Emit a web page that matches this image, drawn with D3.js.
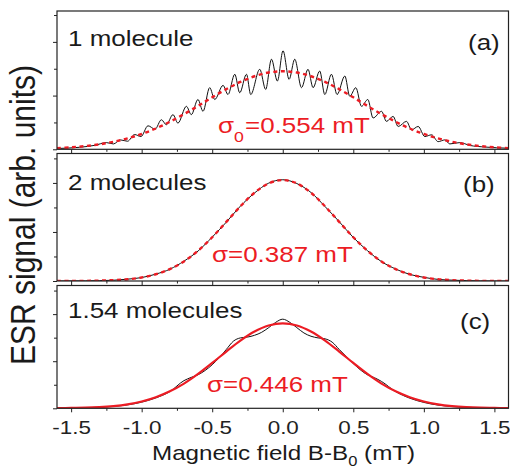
<!DOCTYPE html>
<html>
<head>
<meta charset="utf-8">
<script src="https://cdn.jsdelivr.net/npm/d3@7"></script>
<style>
  body { margin: 0; background: #fff; }
  svg { display: block; font-family: "Liberation Sans", Arial, sans-serif; }
</style>
</head>
<body>
<div id="vis"></div>
<script>
// axis ticks
const fieldTicks = [-1.5, -1.0, -0.5, 0.0, 0.5, 1.0, 1.5];
const fieldMinor = [-1.25, -0.75, -0.25, 0.25, 0.75, 1.25];
const signalTicks = [0, 0.4, 0.8];
const signalMinor = [0.2, 0.6, 1.0];

// grid used for the gaussian fits (mT)
const fitField = [-1.6, -1.5, -1.4, -1.3, -1.2, -1.1, -1.0, -0.9, -0.8, -0.7, -0.6, -0.5, -0.4, -0.3, -0.2, -0.1, 0.0,
  0.1, 0.2, 0.3, 0.4, 0.5, 0.6, 0.7, 0.8, 0.9, 1.0, 1.1, 1.2, 1.3, 1.4, 1.5, 1.6];

// (a) 1 molecule
const fieldA = [-1.6, -1.44, -1.33, -1.25, -1.2, -1.15, -1.1, -1.05, -1.005, -0.955, -0.905, -0.86, -0.825, -0.778, -0.743,
  -0.683, -0.648, -0.601, -0.565, -0.518, -0.482, -0.423, -0.388, -0.34, -0.305, -0.257, -0.227, -0.163, -0.121, -0.08,
  -0.038, 0.002, 0.045, 0.085, 0.133, 0.179, 0.215, 0.262, 0.298, 0.345, 0.385, 0.44, 0.475, 0.518, 0.558, 0.603, 0.64,
  0.7, 0.735, 0.782, 0.818, 0.877, 0.913, 0.96, 1.007, 1.055, 1.101, 1.149, 1.184, 1.255, 1.326, 1.433, 1.596];
const signalA = [0.006, 0.015, 0.03, 0.05, 0.04, 0.07, 0.06, 0.11, 0.095, 0.175, 0.15, 0.22, 0.183, 0.258, 0.195,
  0.32, 0.258, 0.371, 0.283, 0.459, 0.371, 0.476, 0.408, 0.559, 0.421, 0.559, 0.408, 0.596, 0.446, 0.671,
  0.508, 0.734, 0.521, 0.671, 0.459, 0.596, 0.459, 0.583, 0.408, 0.559, 0.408, 0.546, 0.395, 0.459, 0.32, 0.371, 0.233,
  0.283, 0.208, 0.245, 0.17, 0.208, 0.145, 0.17, 0.095, 0.108, 0.057, 0.07, 0.04, 0.05, 0.029, 0.017, 0.008];
const fitA = [0.009, 0.015, 0.024, 0.037, 0.056, 0.081, 0.114, 0.155, 0.205, 0.262, 0.323, 0.387, 0.448, 0.502, 0.544, 0.572, 0.581,
  0.572, 0.544, 0.502, 0.448, 0.387, 0.323, 0.262, 0.205, 0.155, 0.114, 0.081, 0.056, 0.037, 0.024, 0.015, 0.009];

// (b) 2 molecules
const signalB = [0, 0.001, 0.001, 0.003, 0.006, 0.015, 0.028, 0.056, 0.096, 0.162, 0.245, 0.358, 0.48, 0.611, 0.718, 0.798, 0.826,
  0.795, 0.722, 0.607, 0.484, 0.355, 0.248, 0.158, 0.098, 0.054, 0.03, 0.013, 0.007, 0.003, 0.001, 0, 0];
const fitB = [0, 0, 0.001, 0.003, 0.007, 0.014, 0.029, 0.055, 0.097, 0.16, 0.247, 0.357, 0.482, 0.609, 0.72, 0.796, 0.823,
  0.796, 0.72, 0.609, 0.482, 0.357, 0.247, 0.16, 0.097, 0.055, 0.029, 0.014, 0.007, 0.003, 0.001, 0, 0];

// (c) 1.54 molecules
const fieldC = [-1.6, -1.4, -1.2, -1.0, -0.9, -0.8, -0.7, -0.65, -0.6, -0.5, -0.45, -0.4, -0.35, -0.3, -0.25, -0.2, -0.15,
  -0.1, -0.05, 0, 0.05, 0.1, 0.15, 0.2, 0.25, 0.3, 0.35, 0.4, 0.45, 0.5, 0.6, 0.65, 0.7, 0.8, 0.9, 1.0, 1.2, 1.4, 1.6];
const signalC = [0.001, 0.005, 0.016, 0.052, 0.088, 0.142, 0.235, 0.262, 0.285, 0.37, 0.43, 0.5, 0.57, 0.598, 0.605, 0.62, 0.645,
  0.685, 0.73, 0.757, 0.73, 0.685, 0.64, 0.612, 0.598, 0.59, 0.562, 0.5, 0.44, 0.38, 0.285, 0.26, 0.228, 0.142, 0.086, 0.05,
  0.015, 0.005, 0.001];
const fitC = [0.001, 0.003, 0.005, 0.01, 0.019, 0.034, 0.058, 0.094, 0.144, 0.21, 0.292, 0.385, 0.482, 0.575, 0.652, 0.703, 0.721,
  0.703, 0.652, 0.575, 0.482, 0.385, 0.292, 0.21, 0.144, 0.094, 0.058, 0.034, 0.019, 0.01, 0.005, 0.003, 0.001];

const RED = '#ec1c24';
const STRETCH = 1.18; // text in the figure is a bit wide

const config = { width: 510, height: 470, left: 57, right: 508.5 };

const panels = [
  { top: 11, bottom: 149.3, yMax: 1.03, field: fieldA, signal: signalA, fit: fitA, dashed: true,
    name: '1 molecule', nameY: 46, tag: '(a)', tagX: 468, tagY: 50,
    sigma: ['σ', '0', '=0.554 mT'], sigmaX: 218, sigmaY: 133 },
  { top: 153.5, bottom: 281, yMax: 1.04, field: fitField, signal: signalB, fit: fitB, dashed: true,
    name: '2 molecules', nameY: 190, tag: '(b)', tagX: 463, tagY: 191.5,
    sigma: ['σ', '', '=0.387 mT'], sigmaX: 212, sigmaY: 262 },
  { top: 285.5, bottom: 408.3, yMax: 1.043, field: fieldC, signal: signalC, fit: fitC, dashed: false,
    name: '1.54 molecules', nameY: 318, tag: '(c)', tagX: 460, tagY: 328.5,
    sigma: ['σ', '', '=0.446 mT'], sigmaX: 207, sigmaY: 392 }
];

const svg = d3.select('#vis')
  .append('svg')
  .attr('width', config.width)
  .attr('height', config.height);

const x = d3.scaleLinear().domain([-1.6, 1.6]).range([config.left, config.right]);

function stretched(sel, px, py) {
  return sel.attr('transform', `translate(${px},${py}) scale(${STRETCH},1)`);
}

panels.forEach((p, i) => {
  const y = d3.scaleLinear().domain([0, p.yMax]).range([p.bottom, p.top]);
  const g = svg.append('g');

  const clipId = 'clip' + i;
  svg.append('clipPath').attr('id', clipId)
    .append('rect')
    .attr('x', config.left).attr('y', p.top)
    .attr('width', config.right - config.left).attr('height', p.bottom - p.top);

  // bottom ticks
  const bottomAxis = g.append('g')
    .attr('transform', `translate(0,${p.bottom})`)
    .call(d3.axisBottom(x).tickValues(fieldTicks).tickSize(4)
      .tickFormat(i === 2 ? d3.format('.1f') : ''));
  g.append('g')
    .attr('transform', `translate(0,${p.bottom})`)
    .call(d3.axisBottom(x).tickValues(fieldMinor).tickSize(2.5).tickFormat(''));

  // left ticks
  g.append('g')
    .attr('transform', `translate(${config.left},0)`)
    .call(d3.axisLeft(y).tickValues(signalTicks).tickSize(4).tickFormat(''));
  g.append('g')
    .attr('transform', `translate(${config.left},0)`)
    .call(d3.axisLeft(y).tickValues(signalMinor).tickSize(3).tickFormat(''));

  g.selectAll('.domain').remove();
  g.selectAll('.tick line').attr('stroke', '#222');

  if (i === 2) {
    bottomAxis.selectAll('text')
      .attr('y', 25.5).attr('dy', 0)
      .attr('font-size', 19)
      .attr('font-family', '"Liberation Sans", Arial, sans-serif')
      .attr('fill', '#222')
      .attr('transform', `scale(${STRETCH},1)`)
      .text(d => d3.format('.1f')(d).replace('−', '-'));
  }

  const line = d3.line()
    .x((d, k) => x(p.field[k]))
    .y(d => y(d))
    .curve(d3.curveMonotoneX);
  const fitLine = d3.line()
    .x((d, k) => x(fitField[k]))
    .y(d => y(d))
    .curve(d3.curveCatmullRom);

  const plot = g.append('g').attr('clip-path', `url(#${clipId})`);
  plot.append('path')
    .datum(p.signal)
    .attr('d', line)
    .attr('fill', 'none')
    .attr('stroke', '#111')
    .attr('stroke-width', 1);
  plot.append('path')
    .datum(p.fit)
    .attr('d', fitLine)
    .attr('fill', 'none')
    .attr('stroke', RED)
    .attr('stroke-width', p.dashed ? 2.4 : 2.2)
    .attr('stroke-dasharray', p.dashed ? '4,3.5' : null);

  // frame
  g.append('rect')
    .attr('x', config.left).attr('y', p.top)
    .attr('width', config.right - config.left).attr('height', p.bottom - p.top)
    .attr('fill', 'none')
    .attr('stroke', '#222')
    .attr('stroke-width', 1.2);

  // texts
  stretched(g.append('text'), 68, p.nameY)
    .attr('font-size', 22).attr('fill', '#1a1a1a').text(p.name);
  stretched(g.append('text'), p.tagX, p.tagY)
    .attr('font-size', 22).attr('fill', '#1a1a1a').text(p.tag);

  const s = stretched(g.append('text'), p.sigmaX, p.sigmaY)
    .attr('font-size', 22).attr('fill', RED);
  s.append('tspan').text(p.sigma[0]);
  if (p.sigma[1]) {
    s.append('tspan').attr('font-size', 15).attr('dy', 9).text(p.sigma[1]);
    s.append('tspan').attr('dy', -9).attr('dx', 1).text(p.sigma[2]);
  } else {
    s.append('tspan').text(p.sigma[2]);
  }
});

// axis titles
const xTitle = stretched(svg.append('text'), 152, 460)
  .attr('font-size', 20.5).attr('fill', '#1a1a1a');
xTitle.append('tspan').text('Magnetic field B-B');
xTitle.append('tspan').attr('font-size', 14).attr('dy', 6).text('0');
xTitle.append('tspan').attr('dy', -6).text(' (mT)');

svg.append('text')
  .attr('transform', `translate(35,215) scale(${STRETCH},1) rotate(-90)`)
  .attr('text-anchor', 'middle')
  .attr('font-size', 30)
  .attr('fill', '#1a1a1a')
  .text('ESR signal (arb. units)');
</script>
</body>
</html>
